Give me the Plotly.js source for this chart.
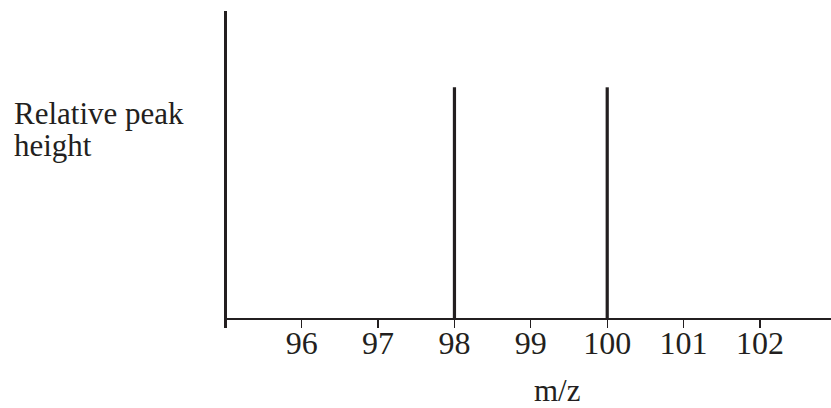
<!DOCTYPE html>
<html>
<head>
<meta charset="utf-8">
<script src="https://cdn.plot.ly/plotly-3.0.1.min.js"></script>
<style>html,body{margin:0;padding:0;background:#fff;}#chart{width:831px;height:408px;}</style>
</head>
<body>
<div id="chart"></div>
<script>
const mz = [98, 100];
const peakHeights = [75, 75];
const tickValues = [96, 97, 98, 99, 100, 101, 102];
const tickLabels = ["96", "97", "98", "99", "100", "101", "102"];
const xTitle = "m/z";
const yTitleLines = ["Relative peak", "height"];

const ink = "#231f20";
const font = "Liberation Serif, Times New Roman, serif";

const trace = {
  type: "bar",
  x: mz,
  y: peakHeights,
  width: 0.042,
  marker: {color: ink, line: {width: 0}},
  hoverinfo: "x+y"
};

const L = 227, T = 11, B = 80, W = 831 - L, H = 408 - T - B;
const py = p => (408 - B - p) / H;
const px = p => (p - L) / W;

const layout = {
  width: 831, height: 408,
  margin: {l: L, r: 0, t: T, b: B, pad: 0},
  paper_bgcolor: "#fff", plot_bgcolor: "#fff",
  showlegend: false,
  xaxis: {
    range: [95.022, 102.93],
    tickvals: tickValues, ticktext: tickLabels,
    ticks: "inside", ticklen: 8, tickwidth: 1.2, tickcolor: ink,
    ticklabelstandoff: -7,
    showgrid: false, zeroline: false, showline: false,
    tickfont: {family: font, size: 32, color: ink},
    fixedrange: true
  },
  yaxis: {
    range: [-2.9, 99.7],
    showticklabels: false, ticks: "",
    showgrid: false,
    showline: true, linewidth: 3, linecolor: ink,
    zeroline: true, zerolinewidth: 2.5, zerolinecolor: ink,
    fixedrange: true
  },
  annotations: [
    {xref: "paper", yref: "paper", x: px(12), y: py(113), xanchor: "left", yanchor: "middle",
     text: yTitleLines[0], showarrow: false, align: "left",
     font: {family: font, size: 31, color: ink}},
    {xref: "paper", yref: "paper", x: px(12), y: py(145), xanchor: "left", yanchor: "middle",
     text: yTitleLines[1], showarrow: false, align: "left",
     font: {family: font, size: 31, color: ink}},
    {xref: "paper", yref: "paper", x: px(557), y: py(390), xanchor: "center", yanchor: "middle",
     text: xTitle, showarrow: false,
     font: {family: font, size: 31, color: ink}}
  ]
};

Plotly.newPlot("chart", [trace], layout, {displayModeBar: false, staticPlot: true});
</script>
</body>
</html>
